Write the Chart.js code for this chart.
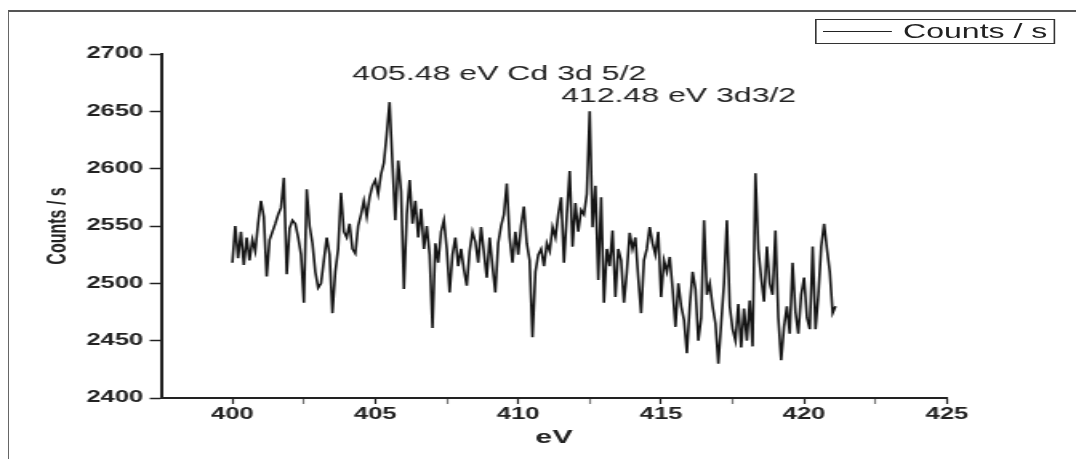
<!DOCTYPE html>
<html>
<head>
<meta charset="utf-8">
<script src="https://cdn.jsdelivr.net/npm/chart.js@4/dist/chart.umd.min.js"></script>
<style>
  html, body { margin: 0; padding: 0; background: #fff; overflow: hidden; }
  #frame { position: absolute; left: 8px; top: 10px; width: 1200px; height: 600px;
           border-top: 2px solid #555; border-left: 1px solid #666; }
  /* the source figure is stretched sideways, so draw narrow and widen */
  #stage { position: absolute; left: 0; top: 0; width: 672px; height: 459px;
           transform: scaleX(1.6012); transform-origin: 0 0; }
  #legend { position: absolute; left: 509px; top: 19px; width: 148px; height: 23px;
            border: 1.5px solid #333; font: 20px "Liberation Sans", Arial, sans-serif; color: #222; }
  #legend .swatch { position: absolute; left: 4px; top: 11px; width: 43px; height: 0;
                    border-top: 1.5px solid #222; }
  #legend .label { position: absolute; left: 54px; top: 0; line-height: 23px; white-space: nowrap; }
</style>
</head>
<body>
<div id="frame"></div>
<div id="stage">
  <canvas id="xps"></canvas>
  <div id="legend"><span class="swatch"></span><span class="label">Counts / s</span></div>
</div>
<script>
// scan settings (eV)
const scanStart = 400.0;
const scanStep = 0.1;

// counts per second, one row per eV (400.0 ... 421.1)
const counts = [
  2518, 2550, 2522, 2545, 2516, 2540, 2520, 2538, 2528, 2552, // 400
  2572, 2558, 2506, 2538, 2545, 2552, 2560, 2566, 2592, 2508, // 401
  2548, 2555, 2552, 2540, 2525, 2483, 2582, 2550, 2535, 2510, // 402
  2496, 2500, 2520, 2540, 2525, 2474, 2510, 2530, 2579, 2545, // 403
  2540, 2552, 2530, 2526, 2550, 2560, 2572, 2558, 2575, 2585, // 404
  2590, 2578, 2595, 2605, 2630, 2658, 2605, 2555, 2607, 2580, // 405
  2495, 2560, 2590, 2552, 2572, 2540, 2565, 2530, 2550, 2525, // 406
  2461, 2535, 2518, 2545, 2555, 2530, 2492, 2525, 2540, 2515, // 407
  2530, 2512, 2498, 2528, 2545, 2536, 2518, 2549, 2527, 2505, // 408
  2540, 2515, 2492, 2535, 2550, 2560, 2587, 2540, 2518, 2545, // 409
  2525, 2550, 2567, 2535, 2520, 2453, 2510, 2525, 2530, 2515, // 410
  2535, 2528, 2549, 2540, 2560, 2575, 2518, 2560, 2598, 2532, // 411
  2570, 2545, 2564, 2560, 2578, 2650, 2549, 2585, 2503, 2575, // 412
  2483, 2530, 2515, 2546, 2488, 2530, 2520, 2483, 2510, 2544, // 413
  2530, 2540, 2505, 2474, 2520, 2530, 2549, 2535, 2525, 2545, // 414
  2488, 2520, 2510, 2523, 2495, 2462, 2500, 2480, 2468, 2439, // 415
  2480, 2510, 2495, 2450, 2470, 2555, 2490, 2500, 2480, 2465, // 416
  2430, 2465, 2500, 2555, 2480, 2460, 2450, 2482, 2444, 2478, // 417
  2450, 2485, 2445, 2596, 2530, 2505, 2484, 2532, 2500, 2490, // 418
  2546, 2470, 2433, 2462, 2480, 2456, 2518, 2475, 2456, 2490, // 419
  2505, 2470, 2460, 2532, 2460, 2490, 2532, 2552, 2530, 2510, // 420
  2474, 2480                                                  // 421
];

const energyTicks = [400, 405, 410, 415, 420, 425];
const energyMinorTicks = [402.5, 407.5, 412.5, 417.5, 422.5];
const countTicks = [2400, 2450, 2500, 2550, 2600, 2650, 2700];
const countMinorTicks = [2425, 2475, 2525, 2575, 2625, 2675];
const peakNotes = ["405.48 eV Cd 3d 5/2", "412.48 eV 3d3/2"];

const points = counts.map((c, i) => ({ x: +(scanStart + i * scanStep).toFixed(1), y: c }));

const tickFont = { family: "'Liberation Sans', Arial, sans-serif", size: 16, weight: "bold" };

// peak annotations placed in data coordinates
const notesPlugin = {
  id: "peakNotes",
  afterDatasetsDraw(chart) {
    const { ctx, scales } = chart;
    const spots = [[404.2, 2682], [411.5, 2663]];
    ctx.save();
    ctx.font = "20px 'Liberation Sans', Arial, sans-serif";
    ctx.fillStyle = "#222";
    ctx.textAlign = "left";
    ctx.textBaseline = "middle";
    peakNotes.forEach((t, i) => {
      ctx.fillText(t, scales.x.getPixelForValue(spots[i][0]), scales.y.getPixelForValue(spots[i][1]));
    });
    ctx.restore();
  }
};

new Chart(document.getElementById("xps"), {
  type: "line",
  data: {
    datasets: [{
      label: "Counts / s",
      data: points,
      borderColor: "#151515",
      borderWidth: 1.6,
      pointRadius: 0,
      tension: 0,
      fill: false
    }]
  },
  options: {
    responsive: true,
    maintainAspectRatio: false,
    animation: false,
    layout: { padding: { top: 54, right: 80.6, bottom: 0, left: 0 } },
    plugins: { legend: { display: false }, tooltip: { enabled: false } },
    scales: {
      x: {
        type: "linear",
        min: 397.5,
        max: 425,
        afterBuildTicks: s => { s.ticks = [...energyTicks, ...energyMinorTicks].sort((a, b) => a - b).map(v => ({ value: v })); },
        afterFit: s => { s.height = 61; },
        ticks: {
          autoSkip: false, maxRotation: 0, padding: 1, color: "#222", font: tickFont,
          callback: v => energyTicks.includes(v) ? v : ""
        },
        grid: {
          drawOnChartArea: false, tickLength: 6, tickWidth: 1.2,
          tickColor: c => energyTicks.includes(c.tick.value) ? "#222" : "#777"
        },
        border: { color: "#222", width: 2 },
        title: {
          display: true, text: "eV", color: "#222",
          font: { family: "'Liberation Sans', Arial, sans-serif", size: 19, weight: "bold" },
          padding: { top: 0, bottom: 10 }
        }
      },
      y: {
        min: 2400,
        max: 2700,
        afterBuildTicks: s => { s.ticks = [...countTicks, ...countMinorTicks].sort((a, b) => a - b).map(v => ({ value: v })); },
        afterFit: s => { s.width = 100.5; },
        ticks: {
          autoSkip: false, padding: 4, color: "#222", font: tickFont,
          callback: v => countTicks.includes(v) ? v : ""
        },
        grid: {
          drawOnChartArea: false, tickLength: 7, tickWidth: 1.5,
          tickColor: c => countTicks.includes(c.tick.value) ? "#222" : "rgba(0,0,0,0)"
        },
        border: { color: "#222", width: 2 },
        title: {
          display: true, text: "Counts / s", color: "#222",
          font: { family: "'Liberation Sans', Arial, sans-serif", size: 16, weight: "bold" },
          padding: { top: 27, bottom: 0 }
        }
      }
    }
  },
  plugins: [notesPlugin]
});
</script>
</body>
</html>
